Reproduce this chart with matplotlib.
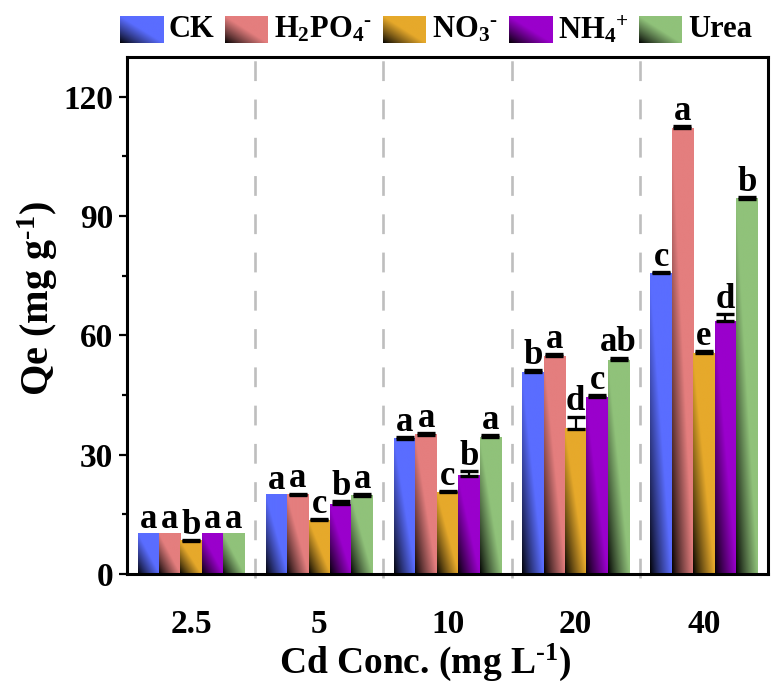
import numpy as np
import matplotlib
matplotlib.use("Agg")
import matplotlib.pyplot as plt
from matplotlib.ticker import MultipleLocator

plt.rcParams['font.family'] = ['Liberation Serif', 'DejaVu Serif']
plt.rcParams['font.weight'] = 'bold'
plt.rcParams['mathtext.fontset'] = 'custom'
plt.rcParams['mathtext.rm'] = 'Liberation Serif:bold'
plt.rcParams['mathtext.bf'] = 'Liberation Serif:bold'
plt.rcParams['mathtext.it'] = 'Liberation Serif:bold:italic'

# ---------------- data ----------------
categories = ["2.5", "5", "10", "20", "40"]
series_names = ["CK", r"H$_\mathbf{2}$PO$_\mathbf{4}{}^{\text{-}}$", r"NO$_\mathbf{3}{}^{\text{-}}$",
                r"NH$_\mathbf{4}{}^\mathbf{+}$", "Urea"]
ck    = [10.1, 19.9, 34.0, 50.7, 75.6]
h2po4 = [10.1, 19.9, 35.0, 54.8, 112.1]
no3   = [8.3, 13.5, 20.6, 36.5, 55.5]
nh4   = [10.1, 17.6, 24.7, 44.4, 63.5]
urea  = [10.1, 19.7, 34.4, 53.8, 94.3]
ck_err    = [0.0, 0.0, 0.4, 0.5, 0.4]
h2po4_err = [0.0, 0.3, 0.4, 0.5, 0.6]
no3_err   = [0.3, 0.3, 0.3, 3.1, 0.5]
nh4_err   = [0.0, 0.8, 1.2, 0.6, 1.9]
urea_err  = [0.0, 0.3, 0.5, 0.6, 0.4]
ck_let    = ["a", "a", "a", "b", "c"]
h2po4_let = ["a", "a", "a", "a", "a"]
no3_let   = ["b", "c", "c", "d", "e"]
nh4_let   = ["a", "b", "b", "c", "d"]
urea_let  = ["a", "a", "a", "ab", "b"]

values = [ck, h2po4, no3, nh4, urea]
errors = [ck_err, h2po4_err, no3_err, nh4_err, urea_err]
letters = [ck_let, h2po4_let, no3_let, nh4_let, urea_let]
colors = ["#5A6DFF", "#E47E7E", "#E6A92B", "#9A00CC", "#90C27A"]

W, H = 779, 686
fig = plt.figure(figsize=(W / 100, H / 100), dpi=100)
ax = fig.add_axes([127 / W, 112 / H, 641 / W, 517 / H])


def grad_img(color, n=80):
    c = np.array(matplotlib.colors.to_rgb(color))
    u = np.linspace(0, 1, n)[None, :]
    v = np.linspace(0, 1, n)[:, None]
    s = np.clip(u + v, 0, 1) ** 0.85
    return c[None, None, :] * s[..., None]


bw = 0.167
x = np.arange(len(categories))
for i, (vals, errs, lets, col) in enumerate(zip(values, errors, letters, colors)):
    xs = x + (i - 2) * bw
    img = grad_img(col)
    for xi, vi in zip(xs, vals):
        ax.imshow(img, extent=[xi - bw / 2, xi + bw / 2, 0, vi], origin='lower',
                  aspect='auto', interpolation='bilinear', zorder=2)
    idx = [k for k, e in enumerate(errs) if e > 0]
    ax.errorbar(xs[idx], np.array(vals)[idx], yerr=[np.zeros(len(idx)), np.array(errs)[idx]],
                fmt='none', ecolor='black', elinewidth=1.6, capsize=6.8, capthick=2.4, zorder=3)
    for xi, vi, ei, li in zip(xs, vals, errs, lets):
        ax.annotate(li, (xi, vi + ei), xytext=(0, 4.5), textcoords='offset points',
                    ha='center', va='baseline', fontsize=25, fontweight='bold', zorder=4)

for sx in [0.5, 1.5, 2.5, 3.5]:
    ax.axvline(sx, ymin=-0.008, ymax=1, color='#BEBEBE', lw=1.9,
               linestyle=(0, (7.5, 7.0)), zorder=1, clip_on=False)

ax.set_xlim(-0.5, 4.5)
ax.set_ylim(0, 130)
ax.set_xticks(x)
ax.set_xticklabels(categories)
ax.yaxis.set_major_locator(MultipleLocator(30))
ax.yaxis.set_minor_locator(MultipleLocator(15))
ax.tick_params(axis='x', length=0, pad=25, labelsize=24)
ax.tick_params(axis='y', which='major', direction='out', length=6, width=1.6, labelsize=24, pad=4)
ax.tick_params(axis='y', which='minor', direction='out', length=3.5, width=1.6)
for lab in ax.get_xticklabels() + ax.get_yticklabels():
    lab.set_fontweight('bold')
for sp in ax.spines.values():
    sp.set_linewidth(2.2)

fig.text(425 / W, 1 - 662 / H, r"Cd Conc. (mg L$^{\text{-1}}$)", ha='center', va='center',
         fontsize=27, fontweight='bold')
fig.text(38 / W, 1 - 299 / H, r"Qe (mg g$^{\text{-1}}$)", ha='center', va='center',
         fontsize=29, fontweight='bold', rotation=90)

# legend drawn manually
fig.canvas.draw()
r = fig.canvas.get_renderer()
pw, ph = 43, 27
py_top = 16
gap_t = 6
texts = []
widths = []
for name in series_names:
    t = fig.text(0, 0, name, fontsize=22, fontweight='bold', va='center', ha='left')
    texts.append(t)
    widths.append(t.get_window_extent(r).width)
start, end = 120, 752
total_fixed = len(series_names) * (pw + gap_t) + sum(widths)
gap_item = (end - start - total_fixed) / (len(series_names) - 1)
cx = start
for name, col, t, w in zip(series_names, colors, texts, widths):
    lax = fig.add_axes([cx / W, 1 - (py_top + ph) / H, pw / W, ph / H])
    lax.imshow(grad_img(col), origin='lower', aspect='auto', interpolation='bilinear')
    lax.axis('off')
    t.set_position(((cx + pw + gap_t) / W, 1 - (py_top + ph / 2) / H))
    cx += pw + gap_t + w + gap_item

fig.savefig("out.png", dpi=100)
